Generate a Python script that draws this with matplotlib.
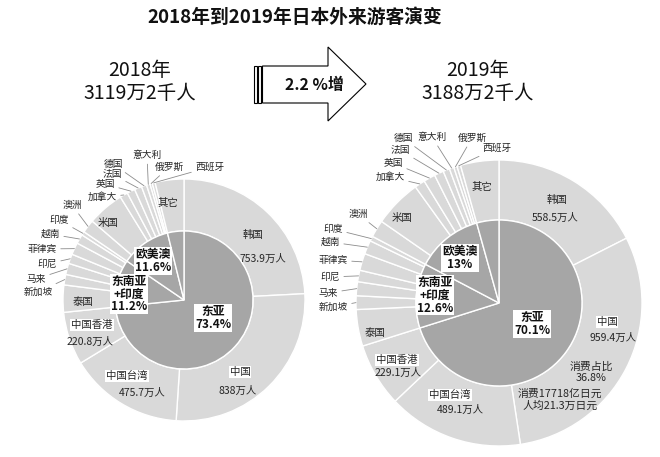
"""Japan inbound visitors 2018 vs 2019: nested donut charts by country and region."""

import matplotlib
matplotlib.use('Agg')
import matplotlib.pyplot as plt
from matplotlib.patches import Polygon, Rectangle
import numpy as np

plt.rcParams['font.family'] = ['Noto Sans CJK SC', 'DejaVu Sans']

W, H = 660, 457

# visitors, 万人
countries = ['韩国', '中国', '中国台湾', '中国香港', '泰国', '新加坡', '马来', '印尼', '菲律宾', '越南', '印度',
             '澳洲', '米国', '加拿大', '英国', '法国', '德国', '意大利', '俄罗斯', '西班牙', '其它']
visitors_2018 = [753.9, 838.0, 475.7, 220.8, 113.2, 43.7, 46.8, 39.7, 50.4, 38.9, 15.4,
                 55.2, 152.6, 33.1, 33.4, 30.5, 21.5, 15.0, 9.5, 12.0, 119.8]
visitors_2019 = [558.5, 959.4, 489.1, 229.1, 131.9, 49.2, 50.2, 41.3, 61.3, 49.5, 17.6,
                 62.2, 172.4, 37.5, 42.4, 33.6, 23.7, 16.3, 12.0, 13.0, 138.1]
regions = ['东亚', '东南亚+印度', '欧美澳', '其它']
region_of = ['东亚'] * 4 + ['东南亚+印度'] * 7 + ['欧美澳'] * 9 + ['其它']
region_labels_2018 = ['东亚\n73.4%', '东南亚\n+印度\n11.2%', '欧美澳\n11.6%']
region_labels_2019 = ['东亚\n70.1%', '东南亚\n+印度\n12.6%', '欧美澳\n13%']

OUTER = '#d9d9d9'
INNER = '#a6a6a6'
TXT = '#262626'
LINE = '#8c8c8c'

# layout in image pixels (y grows downward)
left = dict(cx=184, cy=300, R=121, r=69)
right = dict(cx=499, cy=303, R=143, r=83)

left_inside = {
    '韩国': ((253, 235), (263, 259), False),
    '中国': ((240, 372), (238, 391), True),
    '中国台湾': ((127, 376), (142, 393), True),
    '中国香港': ((92, 325), (90, 342), True),
    '泰国': ((83, 302), None, False),
    '米国': ((108, 223), None, False),
    '其它': ((168, 203), None, False),
}
left_outside = {
    '新加坡': (38, 292), '马来': (36, 279), '印尼': (47, 264), '菲律宾': (42, 249),
    '越南': (50, 234), '印度': (59, 220), '澳洲': (72, 205), '加拿大': (102, 197),
    '英国': (105, 184), '法国': (112, 174), '德国': (113, 164), '意大利': (147, 155),
    '俄罗斯': (169, 167), '西班牙': (210, 167),
}
left_region_pos = [(213, 318), (129, 294), (153, 261)]

right_inside = {
    '韩国': ((557, 200), (555, 218), False),
    '中国': ((607, 322), (613, 338), True),
    '中国台湾': ((450, 395), (460, 410), True),
    '中国香港': ((397, 360), (398, 373), True),
    '泰国': ((375, 333), None, False),
    '米国': ((402, 218), None, False),
    '其它': ((482, 187), None, False),
}
right_outside = {
    '新加坡': (333, 307), '马来': (328, 293), '印尼': (330, 277), '菲律宾': (333, 260),
    '越南': (330, 242), '印度': (333, 229), '澳洲': (358, 214), '加拿大': (390, 177),
    '英国': (393, 163), '法国': (400, 150), '德国': (403, 138), '意大利': (432, 137),
    '俄罗斯': (472, 138), '西班牙': (497, 148),
}
right_region_pos = [(532, 324), (435, 295), (460, 258)]


def donut(ax, geo, values, region_labels, inside, outside, region_pos):
    cx, cy, R, r = geo['cx'], geo['cy'], geo['R'], geo['r']
    values = np.array(values)
    inner_vals = [values[[g == reg for g in region_of]].sum() for reg in regions]
    wp = dict(edgecolor='white', linewidth=1.0)
    # y axis is inverted: startangle=-90 points up, counterclock=True runs clockwise
    ax.pie(values, radius=R, center=(cx, cy), startangle=-90, counterclock=True,
           colors=[OUTER] * len(values), wedgeprops=dict(width=R - r, **wp))
    ax.pie(inner_vals, radius=r, center=(cx, cy), startangle=-90, counterclock=True,
           colors=[INNER] * len(inner_vals), wedgeprops=wp)

    total = values.sum()
    mids = (np.cumsum(values) - values / 2) / total * 2 * np.pi

    for name, (p1, p2, boxed) in inside.items():
        bb = dict(boxstyle='square,pad=0.1', fc='white', ec='none') if boxed else None
        ax.text(*p1, name, ha='center', va='center', fontsize=7.5, color=TXT, bbox=bb)
        if p2 is not None:
            v = values[countries.index(name)]
            s = f'{v:.1f}'.rstrip('0').rstrip('.') + '万人'
            ax.text(*p2, s, ha='center', va='center', fontsize=7.5, color=TXT)

    for name, pos in outside.items():
        th = mids[countries.index(name)]
        edge = (cx + R * np.sin(th), cy - R * np.cos(th))
        ax.annotate(name, xy=edge, xytext=pos, ha='center', va='center', fontsize=7,
                    color=TXT,
                    arrowprops=dict(arrowstyle='-', color=LINE, lw=0.6,
                                    shrinkA=1, shrinkB=0))

    for lab, pos in zip(region_labels, region_pos):
        ax.text(*pos, lab, ha='center', va='center', fontsize=8.5, fontweight='bold',
                color='#111111', linespacing=1.0,
                bbox=dict(boxstyle='square,pad=0.08', fc='white', ec='none'))


fig = plt.figure(figsize=(W / 100, H / 100), dpi=100)
ax = fig.add_axes([0, 0, 1, 1])

donut(ax, left, visitors_2018, region_labels_2018, left_inside, left_outside, left_region_pos)
donut(ax, right, visitors_2019, region_labels_2019, right_inside, right_outside, right_region_pos)

# extra notes on the 2019 China slice
ax.text(591, 372, '消费占比\n36.8%', ha='center', va='center', fontsize=7.8,
        color=TXT, linespacing=1.15)
ax.text(560, 400, '消费17718亿日元\n人均21.3万日元', ha='center', va='center',
        fontsize=7.8, color=TXT, linespacing=1.25)

# title and totals
ax.text(295, 17, '2018年到2019年日本外来游客演变', ha='center', va='center',
        fontsize=13.5, fontweight='bold', color='#111111')
ax.text(140, 82, '2018年\n3119万2千人', ha='center', va='center', fontsize=14,
        color='#111111', linespacing=1.1)
ax.text(478, 82, '2019年\n3188万2千人', ha='center', va='center', fontsize=14,
        color='#111111', linespacing=1.1)

# block arrow
ax.add_patch(Rectangle((254, 66), 2.7, 37, fc='white', ec='black', lw=0.8))
ax.add_patch(Rectangle((258.3, 66), 2.7, 37, fc='white', ec='black', lw=0.8))
arrow = [(262.5, 66), (328, 66), (328, 47), (366, 84), (328, 121), (328, 103), (262.5, 103)]
ax.add_patch(Polygon(arrow, closed=True, fc='white', ec='black', lw=0.8))
ax.text(314, 85, '2.2 %增', ha='center', va='center', fontsize=11.5,
        fontweight='bold', color='#111111')

ax.set_xlim(0, W)
ax.set_ylim(H, 0)
ax.set_aspect('auto')
ax.axis('off')

fig.savefig('out.png', dpi=100, facecolor='white')
